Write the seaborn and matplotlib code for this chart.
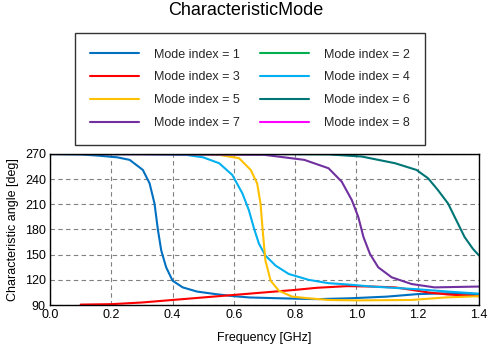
import pandas as pd
import matplotlib.pyplot as plt
import seaborn as sns
from matplotlib.lines import Line2D

sns.set_theme(style='white')
plt.rcParams['font.family'] = ['Liberation Sans', 'DejaVu Sans']

# values (frequency in GHz, angle in deg)
freq_1 = [0.0, 0.1, 0.16, 0.22, 0.26, 0.303, 0.325, 0.341, 0.352, 0.363, 0.379, 0.40, 0.433, 0.48,
          0.54, 0.6, 0.65, 0.75, 0.87, 0.98, 1.1, 1.2, 1.3, 1.4]
angle_1 = [270, 269.5, 268, 266, 263, 251, 235, 211, 180, 155, 135, 119, 111, 106,
           103, 100.5, 99, 98, 97, 98, 100, 103, 104, 103]

freq_2 = [0.0, 1.4]
angle_2 = [270, 270]

freq_3 = [0.1, 0.2, 0.3, 0.4, 0.5, 0.6, 0.7, 0.8, 0.87, 0.97, 1.05, 1.126, 1.19, 1.234, 1.3, 1.4]
angle_3 = [90.5, 91, 93, 96, 99, 102, 105, 108, 110.5, 112.5, 112, 111, 107.5, 105, 102.5, 100.5]

freq_4 = [0.0, 0.3, 0.444, 0.5, 0.552, 0.595, 0.628, 0.649, 0.666, 0.682, 0.703, 0.736, 0.779,
          0.844, 0.909, 0.97, 1.05, 1.19, 1.3, 1.4]
angle_4 = [270, 270, 269, 266, 259, 245, 223, 203, 181, 163, 149, 137, 127,
           120, 116, 114.5, 112, 109, 106, 103.5]

freq_5 = [0.0, 0.45, 0.552, 0.617, 0.655, 0.676, 0.687, 0.695, 0.703, 0.72, 0.747, 0.79, 0.844,
          0.909, 1.0, 1.18, 1.29, 1.4]
angle_5 = [270, 270, 269, 265, 251, 235, 211, 175, 143, 119, 107, 100, 98,
           96, 95.5, 96, 99, 100.5]

freq_6 = [0.0, 0.7, 0.909, 1.017, 1.126, 1.196, 1.234, 1.266, 1.299, 1.326, 1.353, 1.38, 1.4]
angle_6 = [270, 270, 269.5, 267, 259, 251, 241, 227, 211, 191, 171, 157, 149]

freq_7 = [0.0, 0.7, 0.83, 0.909, 0.952, 0.985, 1.006, 1.023, 1.044, 1.071, 1.115, 1.18, 1.255, 1.4]
angle_7 = [270, 269, 263, 253, 237, 215, 195, 171, 151, 135, 123, 115, 111, 112]

freq_8 = [0.0, 1.4]
angle_8 = [270, 270]

modes = [1, 2, 3, 4, 5, 6, 7, 8]
colors = ['#0070C0', '#00B050', '#FF0000', '#00B0F0', '#FFC000', '#007575', '#7030A0', '#FF00FF']
freqs = [freq_1, freq_2, freq_3, freq_4, freq_5, freq_6, freq_7, freq_8]
angles = [angle_1, angle_2, angle_3, angle_4, angle_5, angle_6, angle_7, angle_8]

fig = plt.figure(figsize=(4.92, 3.5), dpi=100)
ax = fig.add_axes([50 / 492, 1 - 305 / 350, 429 / 492, 151 / 350])

# flat modes first so the others sit on top of them
draw_order = [2, 8, 1, 3, 4, 5, 7, 6]
for m in draw_order:
    i = m - 1
    df = pd.DataFrame({'Frequency': freqs[i], 'Angle': angles[i]})
    sns.lineplot(data=df, x='Frequency', y='Angle', color=colors[i], lw=1.5, ax=ax,
                 estimator=None, sort=False)

ax.set_xlim(0, 1.4)
ax.set_ylim(90, 270)
ax.set_xticks([0.0, 0.2, 0.4, 0.6, 0.8, 1.0, 1.2, 1.4])
ax.set_xticklabels(['0.0', '0.2', '0.4', '0.6', '0.8', '1.0', '1.2', '1.4'])
ax.set_yticks([90, 120, 150, 180, 210, 240, 270])
ax.tick_params(labelsize=9, colors='black', length=0, pad=3)
ax.grid(True, color='#808080', ls=(0, (4, 3)), lw=0.8)
for s in ax.spines.values():
    s.set_color('black')
    s.set_linewidth(1.0)
ax.set_xlabel('Frequency [GHz]', fontsize=9, color='black', labelpad=8)
ax.set_ylabel('Characteristic angle [deg]', fontsize=9, color='black', labelpad=4)

fig.suptitle('CharacteristicMode', fontsize=13, y=0.995, color='black')

# legend is filled row by row in the reference: 1 2 / 3 4 / ...
leg_order = [1, 3, 5, 7, 2, 4, 6, 8]
handles = [Line2D([], [], color=colors[m - 1], lw=1.5) for m in leg_order]
labels = ['Mode index = %d' % m for m in leg_order]
leg = fig.legend(handles, labels, ncol=2, loc='upper center', bbox_to_anchor=(0.508, 1 - 33 / 350),
                 fontsize=9, frameon=True, fancybox=False, edgecolor='black',
                 handlelength=3.9, handletextpad=1.2, columnspacing=1.6,
                 labelspacing=0.87, borderpad=1.25, borderaxespad=0)
leg.get_frame().set_linewidth(1.0)

fig.savefig('out.png', dpi=100)
